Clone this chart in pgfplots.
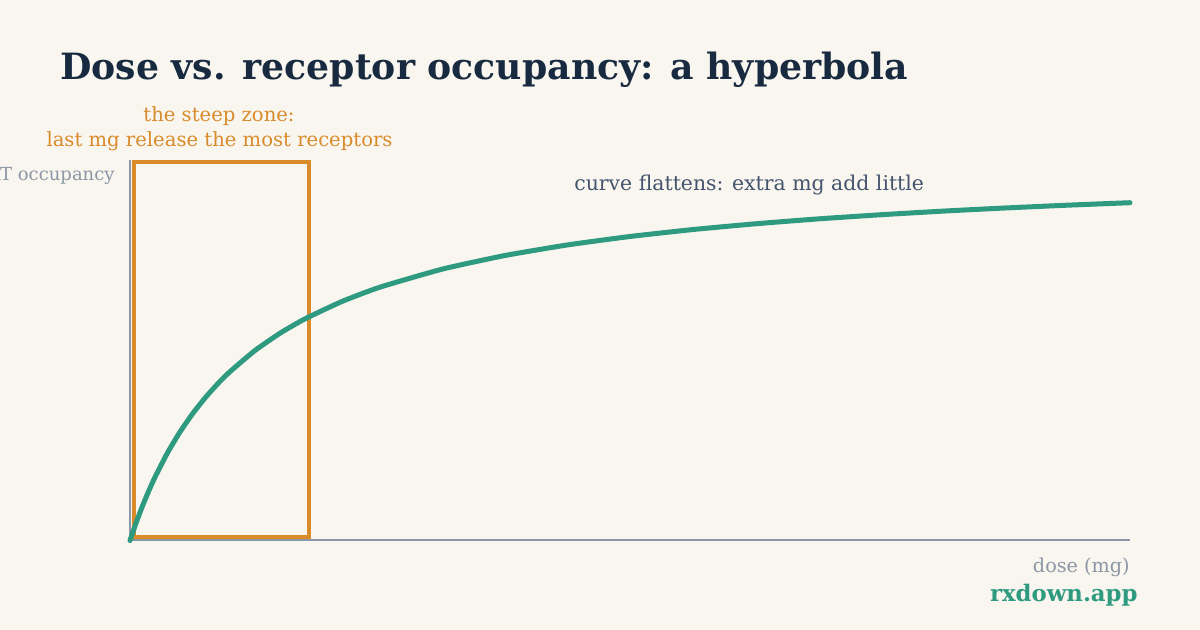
\documentclass[border=0pt]{standalone}
\usepackage{pgfplots}
\pgfplotsset{compat=1.18}
\usepackage{fontspec}
\setmainfont{DejaVu Serif}
\definecolor{bg}{HTML}{F9F5EF}
\definecolor{navy}{HTML}{172A3F}
\definecolor{orng}{HTML}{D98B2B}
\definecolor{teal}{HTML}{2E9A80}
\definecolor{axgray}{HTML}{8C97A6}
\definecolor{slate}{HTML}{44546E}
\begin{document}
\begin{tikzpicture}
\useasboundingbox (0,0) rectangle (600pt,315pt);
\fill[bg] (0,0) rectangle (600pt,315pt);
\clip (0,0) rectangle (600pt,315pt);
\begin{axis}[
  at={(65pt,44.75pt)}, anchor=south west,
  scale only axis, width=500pt, height=190pt,
  xmin=0, xmax=80, ymin=0, ymax=100,
  axis lines=left,
  axis line style={-, color=axgray, line width=1pt},
  xtick=\empty, ytick=\empty,
  clip=false,
]
\addplot[orng, line width=2pt, sharp plot] coordinates {
  (0.3,1) (14.3,1) (14.3,99.5) (0.3,99.5) } -- cycle;
\addplot[teal, line width=2.5pt, smooth, tension=0.3, line cap=round] coordinates {
  (0,0) (0.5,4.76) (1,9.09) (1.5,13.04) (2,16.67) (3,23.08) (4,28.57) (5,33.33)
  (6,37.5) (7,41.18) (8,44.44) (10,50) (12,54.55) (14,58.33) (17,62.96)
  (20,66.67) (25,71.43) (30,75) (35,77.78) (40,80) (45,81.82) (50,83.33)
  (55,84.62) (60,85.71) (65,86.67) (70,87.5) (75,88.24) (80,88.89) };
\end{axis}
\node[anchor=base west, text=navy, font=\fontsize{18.1}{21}\selectfont\bfseries, inner sep=0] at (30pt,275pt) {Dose vs. receptor occupancy: a hyperbola};
\node[anchor=base, text=orng, font=\fontsize{9.8}{11}\selectfont, inner sep=0] at (109.5pt,254pt) {the steep zone:};
\node[anchor=base, text=orng, font=\fontsize{9.8}{11}\selectfont, inner sep=0] at (109.75pt,241.5pt) {last mg release the most receptors};
\node[anchor=base east, text=axgray, font=\fontsize{9}{10}\selectfont, inner sep=0] at (57.5pt,224.5pt) {SERT occupancy};
\node[anchor=base west, text=slate, font=\fontsize{10.2}{12}\selectfont, inner sep=0] at (287pt,219.5pt) {curve flattens: extra mg add little};
\node[anchor=base east, text=axgray, font=\fontsize{9.6}{11}\selectfont, inner sep=0] at (565pt,28.5pt) {dose (mg)};
\node[anchor=base east, text=teal, font=\fontsize{11.4}{13}\selectfont\bfseries, inner sep=0] at (569pt,14pt) {rxdown.app};
\end{tikzpicture}
\end{document}
